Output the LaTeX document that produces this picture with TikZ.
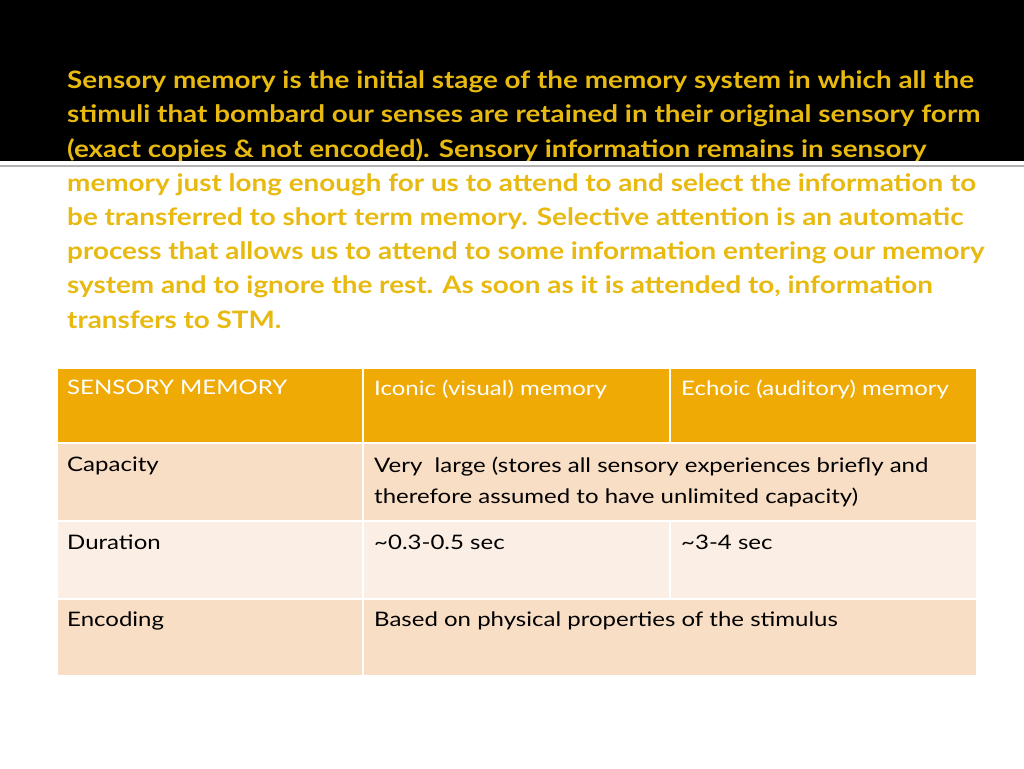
\documentclass[tikz,border=0pt]{standalone}
\usepackage{fontspec}
\setmainfont{Lato}
\newfontfamily\tfont[FakeStretch=1.16]{Lato}
\newfontfamily\cfont[FakeStretch=1.2]{Lato}
\definecolor{gold}{HTML}{E8BA10}
\definecolor{hdr}{HTML}{EFAA05}
\definecolor{rowa}{HTML}{F9DEC6}
\definecolor{rowb}{HTML}{FBEEE4}
\tikzset{
 tl/.style={anchor=base west,inner sep=0pt,text=gold,font=\tfont\fontsize{24}{28}\selectfont\bfseries},
 cell/.style={draw=white,line width=1.5pt},
 ct/.style={anchor=north west,inner sep=0pt,font=\cfont\fontsize{20}{31}\selectfont,align=left,text=black},
 ht/.style={ct,text=white}
}
\begin{document}
\begin{tikzpicture}[x=1pt,y=-1pt]
\useasboundingbox (0,0) rectangle (1024,768);
\fill[black] (0,0) rectangle (1024,161);
\fill[white] (0,161) rectangle (1024,768);
\draw[gray!60,line width=2pt] (0,166) -- (1024,166);
\node[tl] (l1) at (67,88) {Sensory memory is the initial stage of the memory system in which all the};
\node[tl] (l2) at (67,122) {stimuli that bombard our senses are retained in their original sensory form};
\node[tl] (l3) at (67,157) {(exact copies \& not encoded). Sensory information remains in sensory};
\node[tl] (l4) at (67,191) {memory just long enough for us to attend to and select the information to};
\node[tl] (l5) at (67,225) {be transferred to short term memory. Selective attention is an automatic};
\node[tl] (l6) at (67,259) {process that allows us to attend to some information entering our memory};
\node[tl] (l7) at (67,293) {system and to ignore the rest. As soon as it is attended to, information};
\node[tl] (l8) at (67,328) {transfers to STM.};
% table
\foreach \xa/\xb in {57/363,363/670,670/977}{
 \fill[hdr] (\xa,368) rectangle (\xb,443);
 \fill[rowb] (\xa,521) rectangle (\xb,599);}
\fill[rowa] (57,443) rectangle (977,521);
\fill[rowa] (57,599) rectangle (977,676);
\draw[cell] (57,368) rectangle (977,676);
\draw[cell] (57,443) -- (977,443) (57,521) -- (977,521) (57,599) -- (977,599);
\draw[cell] (363,368) -- (363,676);
\draw[cell] (670,368) -- (670,443) (670,521) -- (670,599);
\node[ht] (h1) at (67,380) {SENSORY MEMORY};
\node[ht] (h2) at (374,380) {Iconic (visual) memory};
\node[ht] (h3) at (681,380) {Echoic (auditory) memory};
\node[ct] (c1) at (67,457) {Capacity};
\node[ct] (c2) at (374,457) {Very\ \ large (stores all sensory experiences briefly and\\therefore assumed to have unlimited capacity)};
\node[ct] (d1) at (67,535) {Duration};
\node[ct] (d2) at (374,535) {\textasciitilde0.3-0.5 sec};
\node[ct] (d3) at (681,535) {\textasciitilde3-4 sec};
\node[ct] (e1) at (67,612) {Encoding};
\node[ct] (e2) at (374,612) {Based on physical properties of the stimulus};
\end{tikzpicture}
\end{document}
